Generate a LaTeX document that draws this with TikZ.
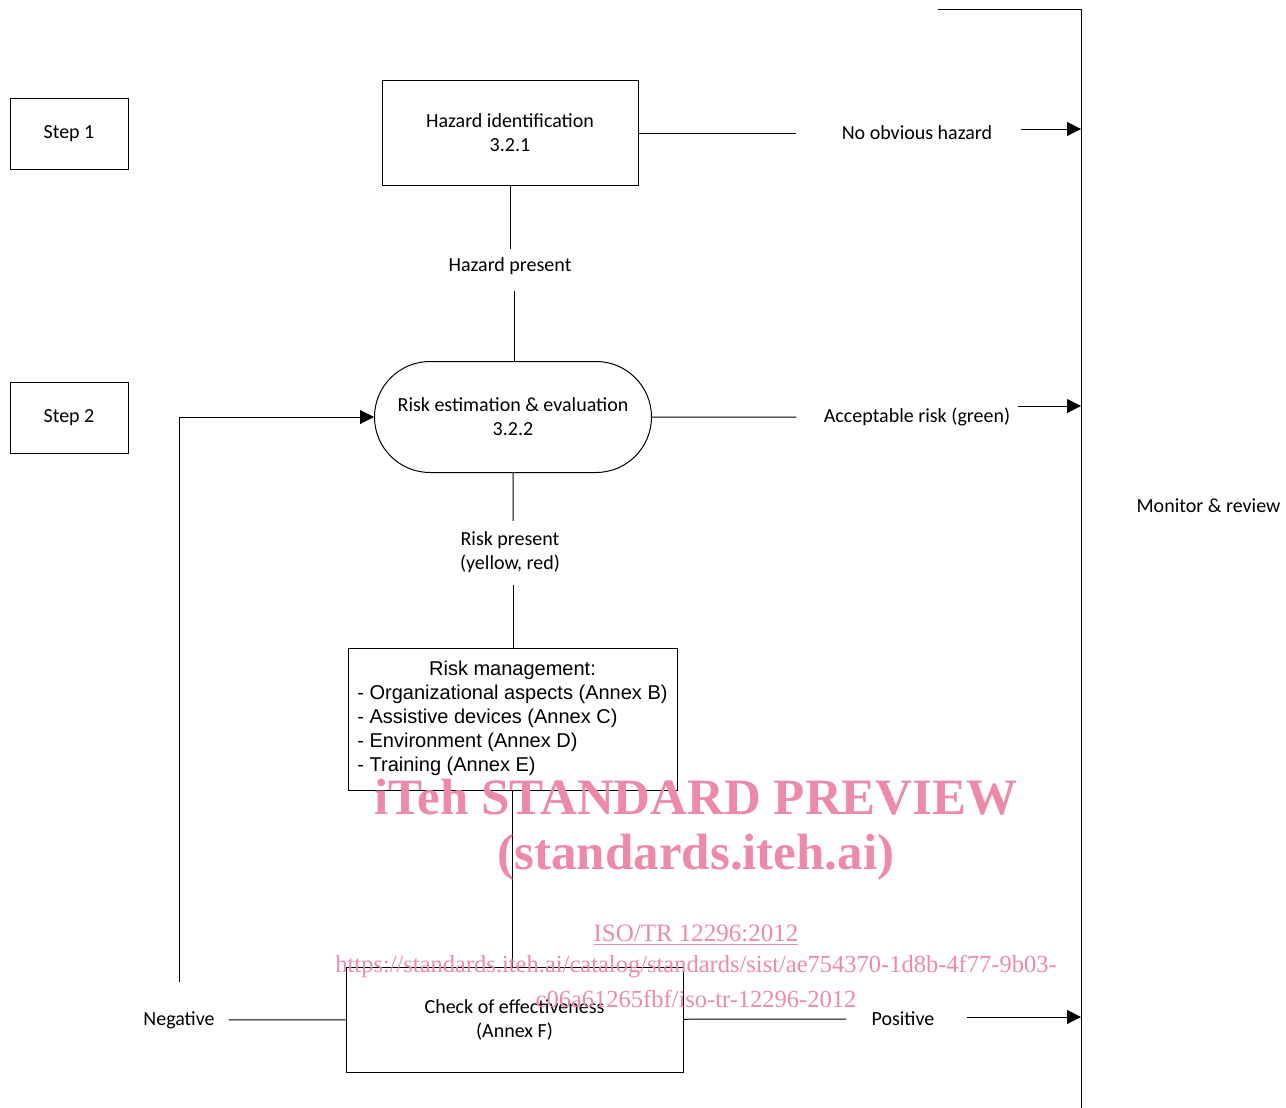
\documentclass[tikz,border=0pt]{standalone}
\usepackage{fontspec}
\setmainfont{Carlito}
\newfontfamily\arialfont{Liberation Sans}
\newfontfamily\wmfont{Liberation Serif}
\usetikzlibrary{shapes.misc,arrows.meta,positioning}

\begin{document}
\begin{tikzpicture}[x=0.5pt, y=-0.5pt, line width=0.5pt]
  % Colours
  \definecolor{watermark}{RGB}{236,138,168} % pink of the preview stamp

  % --- Styles ---
  \tikzset{
    stepbox/.style={draw, minimum width=59pt, minimum height=35.5pt, inner sep=0pt, font=\fontsize{10}{12}\selectfont},
    procbox/.style={draw, align=center, inner sep=0pt, font=\fontsize{10}{12}\selectfont},
    outcome/.style={inner sep=0pt, align=center, font=\fontsize{10}{12}\selectfont},
    flow/.style={-{Triangle[length=7pt,width=7pt]}},
    wmtext/.style={text=watermark, inner sep=0pt, font=\wmfont\bfseries\fontsize{25.5}{30}\selectfont},
    wmsmall/.style={text=watermark, inner sep=0pt, font=\wmfont\fontsize{12.5}{16}\selectfont}
  }

  \useasboundingbox (0,0) rectangle (1286,1108);

  % --- Steps ---
  \node[stepbox] (step1) at (69,134) {Step 1};
  \node[stepbox] (step2) at (69,418) {Step 2};

  % --- Process boxes ---
  \node[procbox, minimum width=128pt, minimum height=52.5pt] (hazard) at (510,133) {Hazard identification\\3.2.1};
  \node[procbox, rounded rectangle, minimum width=138.5pt, minimum height=55.5pt] (risk) at (513,417) {Risk estimation \& evaluation\\3.2.2};
  \node[draw, inner sep=0pt, minimum width=164.5pt, minimum height=71pt, font=\arialfont\fontsize{10}{12}\selectfont] (mgmt) at (512.5,719)
    {\begin{tabular}{@{}l@{}}
      \multicolumn{1}{@{}c@{}}{Risk management:}\\
      - Organizational aspects (Annex B)\\
      - Assistive devices (Annex C)\\
      - Environment (Annex D)\\
      - Training (Annex E)
    \end{tabular}};
  \node[procbox, minimum width=168.5pt, minimum height=52.5pt] (check) at (514.5,1019.5) {Check of effectiveness\\(Annex F)};

  % --- Outcome labels ---
  \node[outcome] (nohaz) at (917,133) {No obvious hazard};
  \node[outcome] (hazpres) at (510,266) {Hazard present};
  \node[outcome] (accrisk) at (917,417) {Acceptable risk (green)};
  \node[outcome] (riskpres) at (510,552) {Risk present\\(yellow, red)};
  \node[outcome] (posit) at (903,1019) {Positive};
  \node[outcome, minimum width=49pt, minimum height=38pt] (negat) at (179,1020) {Negative};
  \node[outcome] (monitor) at (1208.5,506) {Monitor \& review};

  % --- Monitor & review line ---
  \coordinate (mstart) at (938,9);
  \coordinate (mtop) at (1081,9);
  \coordinate (mbot) at (1081,1108);
  \draw (mstart) -- (mtop) -- (mbot);

  % --- Gaps round the labels ---
  \coordinate (hazptop) at ([yshift=4pt]hazpres.north);
  \coordinate (hazpbot) at ([xshift=2pt,yshift=-8pt]hazpres.south);
  \coordinate (riskptop) at ([yshift=5pt]riskpres.north);
  \coordinate (riskpbot) at ([yshift=-6pt]riskpres.south);
  \coordinate (nohazin) at ([xshift=-22.5pt]nohaz.west);
  \coordinate (nohazout) at ([xshift=14pt,yshift=2pt]nohaz.east);
  \coordinate (accin) at ([xshift=-13.5pt]accrisk.west);
  \coordinate (accout) at ([xshift=3.5pt,yshift=5.5pt]accrisk.east);
  \coordinate (positin) at ([xshift=-12.5pt]posit.west);
  \coordinate (positout) at ([xshift=16pt,yshift=1pt]posit.east);

  % --- Connectors ---
  \draw (hazard) -- (nohazin);
  \draw[flow] (nohazout) -- (nohazout -| mtop);
  \draw (hazard) -- (hazard |- hazptop);
  \draw (hazpbot) -- (hazpbot |- risk.north);
  \draw (risk) -- (accin);
  \draw[flow] (accout) -- (accout -| mtop);
  \draw (risk) -- (risk |- riskptop);
  \draw (risk |- riskpbot) -- (risk |- mgmt.north);
  \draw (mgmt) -- (mgmt |- check.north);
  \draw (check) -- (negat);
  \draw[flow] (negat.north) |- (risk);
  \draw (check) -- (positin);
  \draw[flow] (positout) -- (positout -| mtop);

  % --- Preview stamp ---
  \node[wmtext] (wmtitle) at (696,797) {iTeh STANDARD PREVIEW};
  \node[wmtext] (wmsite) at (696,857) {(standards.iteh.ai)};
  \node[wmsmall] (wmcode) at (696,935) {\underline{ISO/TR 12296:2012}};
  \node[wmsmall, font=\wmfont\fontsize{12.25}{16}\selectfont] (wmurl) at (696,967) {https://standards.iteh.ai/catalog/standards/sist/ae754370-1d8b-4f77-9b03-};
  \node[wmsmall, font=\wmfont\fontsize{12.25}{16}\selectfont] (wmfile) at (696,999) {c06a61265fbf/iso-tr-12296-2012};

\end{tikzpicture}
\end{document}
